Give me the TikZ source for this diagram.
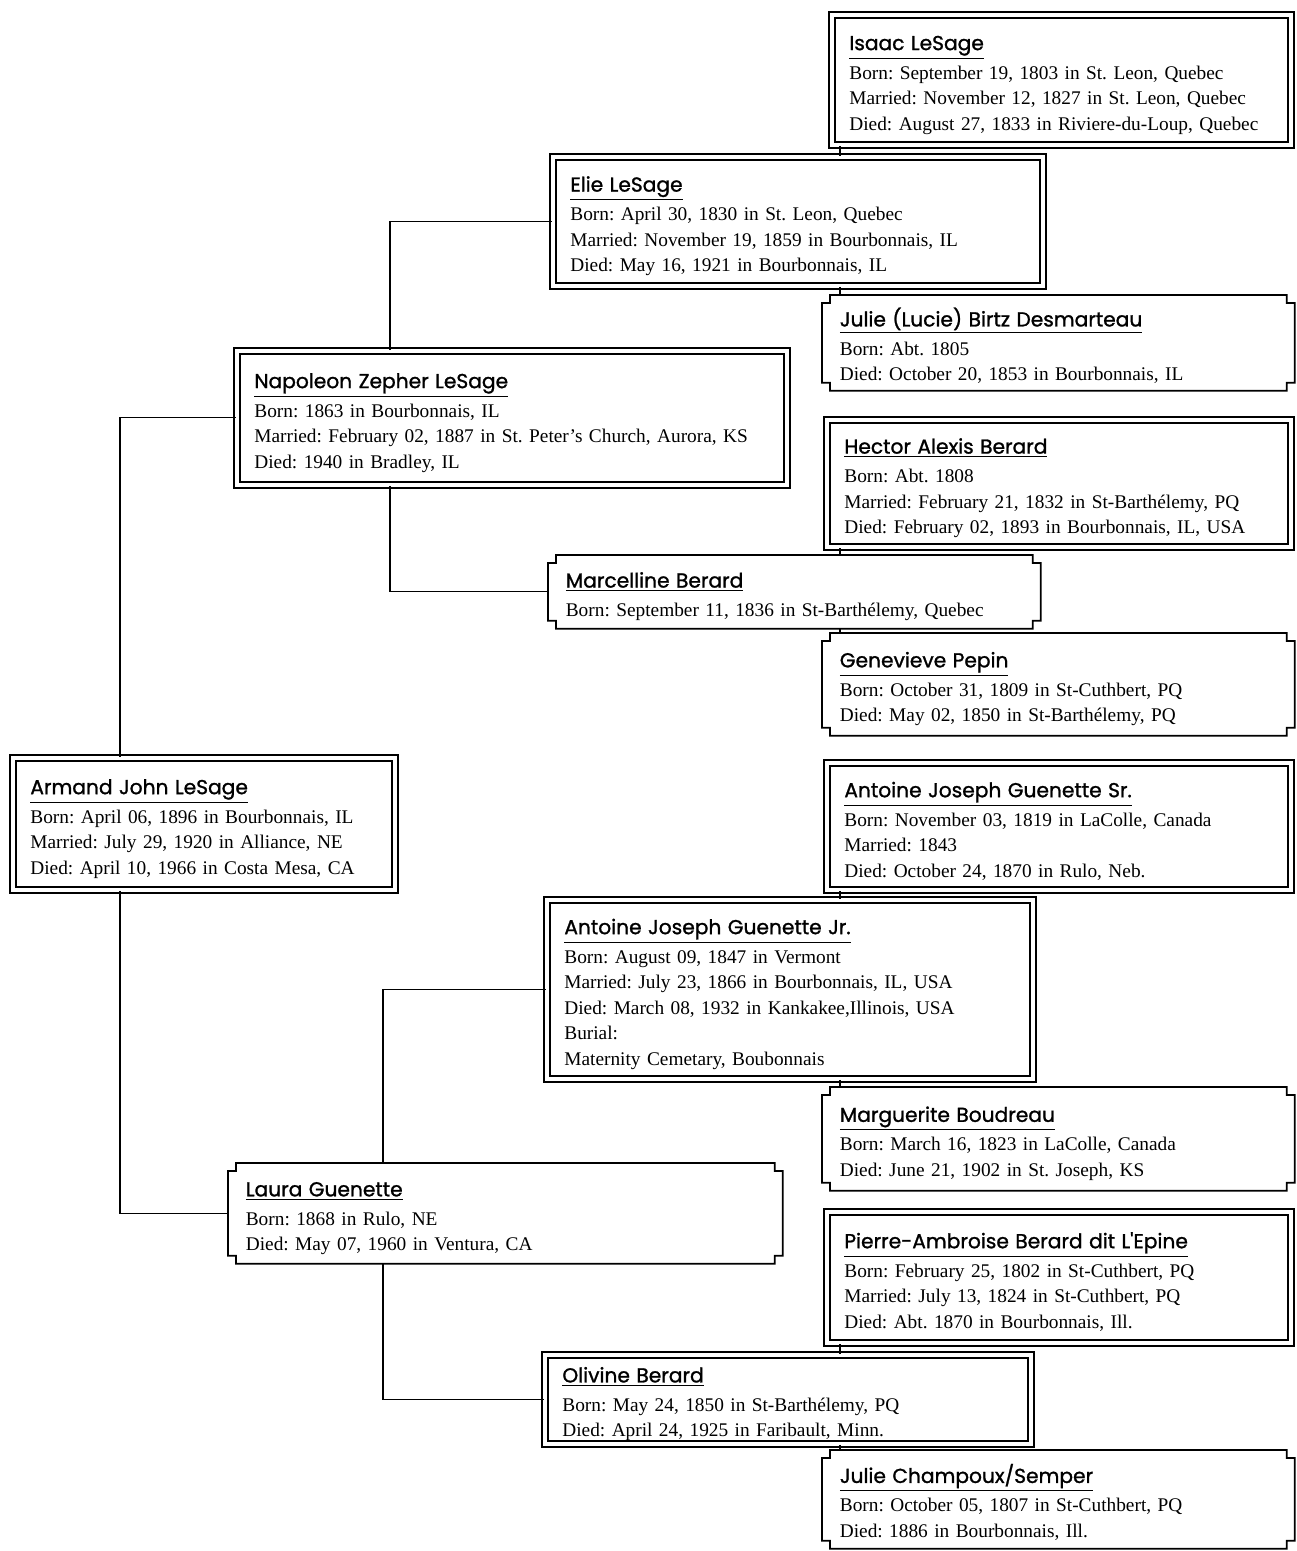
\documentclass[tikz,border=0pt]{standalone}
\usepackage{fontspec}
\setmainfont{Liberation Serif}
\newfontfamily\handfont[FakeBold=1.2]{Poppins}
\newcommand\who[1]{\rule[-2pt]{0pt}{16pt}{\handfont\fontsize{11.5}{14}\selectfont\underline{#1}}\\[2pt]}

\begin{document}
\frenchspacing
\begin{tikzpicture}[x=0.02cm, y=-0.02cm,
  pbox/.style 2 args={anchor=north west, align=left, inner xsep=0.35cm, inner ysep=0pt,
    minimum width=#1*0.02cm, text width=#1*0.02cm-0.7cm, minimum height=#2*0.02cm,
    font=\fontsize{11}{14.5}\selectfont},
  man/.style={draw, double, double distance=2.6pt, line width=1pt},
  notchline/.style={line width=1pt},
  link/.style={line width=0.7pt}]
  \useasboundingbox (0,0) rectangle (1296,1551);

  % paternal side
  \node[pbox={459}{130}, man] (isaac) at (831,14) {\who{Isaac LeSage}
    Born: September 19, 1803 in St. Leon, Quebec\\
    Married: November 12, 1827 in St. Leon, Quebec\\
    Died: August 27, 1833 in Riviere-du-Loup, Quebec};
  \node[pbox={490}{129}, man] (elie) at (552,156) {\who{Elie LeSage}
    Born: April 30, 1830 in St. Leon, Quebec\\
    Married: November 19, 1859 in Bourbonnais, IL\\
    Died: May 16, 1921 in Bourbonnais, IL};
  \node[pbox={472}{95}] (julie) at (822,295) {\who{Julie (Lucie) Birtz Desmarteau}
    Born: Abt. 1805\\
    Died: October 20, 1853 in Bourbonnais, IL};
  \node[pbox={550}{134}, man] (napoleon) at (236,350) {\who{Napoleon Zepher LeSage}
    Born: 1863 in Bourbonnais, IL\\
    Married: February 02, 1887 in St. Peter's Church, Aurora, KS\\
    Died: 1940 in Bradley, IL};
  \node[pbox={464}{127}, man] (hector) at (826,419) {\who{Hector Alexis Berard}
    Born: Abt. 1808\\
    Married: February 21, 1832 in St-Barthélemy, PQ\\
    Died: February 02, 1893 in Bourbonnais, IL, USA};
  \node[pbox={492}{73}] (marcelline) at (548,555) {\who{Marcelline Berard}
    Born: September 11, 1836 in St-Barthélemy, Quebec};
  \node[pbox={472}{102}] (genevieve) at (822,633) {\who{Genevieve Pepin}
    Born: October 31, 1809 in St-Cuthbert, PQ\\
    Died: May 02, 1850 in St-Barthélemy, PQ};

  \node[pbox={382}{132}, man] (armand) at (12,757) {\who{Armand John LeSage}
    Born: April 06, 1896 in Bourbonnais, IL\\
    Married: July 29, 1920 in Alliance, NE\\
    Died: April 10, 1966 in Costa Mesa, CA};

  % maternal side
  \node[pbox={464}{127}, man] (antoinesr) at (826,762) {\who{Antoine Joseph Guenette Sr.}
    Born: November 03, 1819 in LaColle, Canada\\
    Married: 1843\\
    Died: October 24, 1870 in Rulo, Neb.};
  \node[pbox={486}{179}, man] (antoinejr) at (546,899) {\who{Antoine Joseph Guenette Jr.}
    Born: August 09, 1847 in Vermont\\
    Married: July 23, 1866 in Bourbonnais, IL, USA\\
    Died: March 08, 1932 in Kankakee,Illinois, USA\\
    Burial:\\
    Maternity Cemetary, Boubonnais};
  \node[pbox={472}{103}] (marguerite) at (822,1087) {\who{Marguerite Boudreau}
    Born: March 16, 1823 in LaColle, Canada\\
    Died: June 21, 1902 in St. Joseph, KS};
  \node[pbox={554}{100}] (laura) at (228,1163) {\who{Laura Guenette}
    Born: 1868 in Rulo, NE\\
    Died: May 07, 1960 in Ventura, CA};
  \node[pbox={464}{131}, man] (pierre) at (826,1211) {\who{Pierre-Ambroise Berard dit L'Epine}
    Born: February 25, 1802 in St-Cuthbert, PQ\\
    Married: July 13, 1824 in St-Cuthbert, PQ\\
    Died: Abt. 1870 in Bourbonnais, Ill.};
  \node[pbox={486}{89}, man] (olivine) at (544,1354) {\who{Olivine Berard}
    Born: May 24, 1850 in St-Barthélemy, PQ\\
    Died: April 24, 1925 in Faribault, Minn.};
  \node[pbox={472}{98}] (juliec) at (822,1450) {\who{Julie Champoux/Semper}
    Born: October 05, 1807 in St-Cuthbert, PQ\\
    Died: 1886 in Bourbonnais, Ill.};

  % notched frames for the women
  \foreach \w in {julie,marcelline,genevieve,marguerite,laura,juliec}
    \draw[notchline] ([xshift=0.16cm]\w.north west) -- ([xshift=-0.16cm]\w.north east)
      -- ++(0,8) -- ++(8,0) -- ([yshift=0.16cm]\w.south east) -- ++(-8,0) -- ++(0,8)
      -- ([xshift=0.16cm]\w.south west) -- ++(0,-8) -- ++(-8,0)
      -- ([yshift=-0.16cm]\w.north west) -- ++(8,0) -- cycle;

  % connectors
  \draw[link] (armand.north -| 120,0) |- (napoleon.west);
  \draw[link] (armand.south -| 120,0) |- (laura.west);
  \draw[link] (napoleon.north -| 390,0) |- (elie.west);
  \draw[link] (napoleon.south -| 390,0) |- (marcelline.west);
  \draw[link] (laura.north -| 383,0) |- (antoinejr.west);
  \draw[link] (laura.south -| 383,0) |- (olivine.west);
  \draw[link] (elie.north -| 840,0) -- (isaac.south -| 840,0);
  \draw[link] (elie.south -| 840,0) -- (julie.north -| 840,0);
  \draw[link] (marcelline.north -| 840,0) -- (hector.south -| 840,0);
  \draw[link] (marcelline.south -| 840,0) -- (genevieve.north -| 840,0);
  \draw[link] (antoinejr.north -| 840,0) -- (antoinesr.south -| 840,0);
  \draw[link] (antoinejr.south -| 840,0) -- (marguerite.north -| 840,0);
  \draw[link] (olivine.north -| 840,0) -- (pierre.south -| 840,0);
  \draw[link] (olivine.south -| 840,0) -- (juliec.north -| 840,0);
\end{tikzpicture}
\end{document}
